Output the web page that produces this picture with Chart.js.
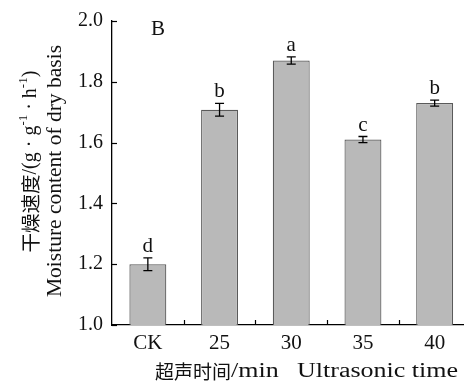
<!DOCTYPE html>
<html><head><meta charset="utf-8">
<script src="https://cdn.jsdelivr.net/npm/chart.js@4.4.0/dist/chart.umd.min.js"></script>
<style>html,body{margin:0;padding:0;overflow:hidden;background:#fff;width:464px;height:385px}canvas{display:block}</style>
</head><body>
<canvas id="c" width="472" height="385" style="width:472px;height:385px"></canvas>
<script>
const categories = ['CK', '25', '30', '35', '40'];
const values = [1.20, 1.708, 1.870, 1.610, 1.730];
const errors = [0.021, 0.021, 0.012, 0.010, 0.010];
const letters = ['d', 'b', 'a', 'c', 'b'];
const yMin = 1.0, yMax = 2.0, yStep = 0.2;
const panelLabel = 'B';
const xTitleCn = '超声时间';
const xTitleUnit = '/min';
const xTitleEn = 'Ultrasonic time';
const yTitleEn = 'Moisture content of dry basis';
const yTitleCnParts = [['干燥速度', 'cjk'], ['/(g · g', 'lat'], ['-1', 'sup'], [' · h', 'lat'], ['-1', 'sup'], [')', 'lat']];

const SERIF = '"Liberation Serif", "Times New Roman", "Noto Sans CJK SC", serif';
const CJK = '"Noto Sans CJK SC", "Liberation Serif", serif';

const extras = {
  id: 'extras',
  afterDatasetsDraw(chart) {
    const ctx = chart.ctx;
    const ys = chart.scales.y, xs = chart.scales.x;
    const meta = chart.getDatasetMeta(0);
    ctx.save();
    ctx.strokeStyle = '#000';
    ctx.lineWidth = 1.3;
    meta.data.forEach((bar, i) => {
      const x = bar.x;
      const yt = ys.getPixelForValue(values[i] + errors[i]);
      const yb = ys.getPixelForValue(values[i] - errors[i]);
      ctx.beginPath();
      ctx.moveTo(x, yt); ctx.lineTo(x, yb);
      ctx.moveTo(x - 4.5, yt); ctx.lineTo(x + 4.5, yt);
      ctx.moveTo(x - 4.5, yb); ctx.lineTo(x + 4.5, yb);
      ctx.stroke();
      ctx.fillStyle = '#111';
      ctx.font = '21px ' + SERIF;
      ctx.textAlign = 'center';
      ctx.textBaseline = 'alphabetic';
      ctx.fillText(letters[i], x, yt - 6);
    });
    // inward ticks on y axis
    ctx.lineWidth = 1.2;
    const left = chart.chartArea.left;
    for (let v = yMin; v <= yMax + 1e-9; v += yStep) {
      const y = Math.round(ys.getPixelForValue(v)) + 0.5;
      ctx.beginPath(); ctx.moveTo(left, y); ctx.lineTo(left + 5, y); ctx.stroke();
    }
    // inward ticks on x axis between categories
    const bottom = chart.chartArea.bottom;
    for (let i = 1; i < categories.length; i++) {
      const x = Math.round((xs.getPixelForValue(i - 1) + xs.getPixelForValue(i)) / 2) + 0.5;
      ctx.beginPath(); ctx.moveTo(x, bottom); ctx.lineTo(x, bottom - 5); ctx.stroke();
    }
    // panel label
    ctx.fillStyle = '#111';
    ctx.font = '21px ' + SERIF;
    ctx.textAlign = 'center';
    ctx.textBaseline = 'middle';
    ctx.fillText(panelLabel, 158, 29);
    // x title: CJK part + widened Latin parts
    ctx.textAlign = 'left';
    ctx.textBaseline = 'middle';
    ctx.font = '19px ' + CJK;
    ctx.fillText(xTitleCn, 155, 372);
    const cnW = ctx.measureText(xTitleCn).width;
    ctx.font = '20px ' + SERIF;
    const hs = 1.3;
    ctx.save();
    ctx.translate(155 + cnW, 372);
    ctx.scale(hs, 1);
    ctx.fillText(xTitleUnit, 0, 0);
    ctx.restore();
    ctx.save();
    ctx.translate(297, 372);
    ctx.scale(hs, 1);
    ctx.fillText(xTitleEn, 0, 0);
    ctx.restore();
    // y title, English line
    ctx.save();
    ctx.translate(55, 171);
    ctx.rotate(-Math.PI / 2);
    ctx.font = '21.5px ' + SERIF;
    ctx.textAlign = 'center';
    ctx.textBaseline = 'middle';
    ctx.fillText(yTitleEn, 0, 0);
    ctx.restore();
    // y title, Chinese line: CJK unscaled, Latin part widened to reference span
    ctx.save();
    ctx.translate(31, 166);
    ctx.rotate(-Math.PI / 2);
    const fonts = { cjk: '19.5px ' + CJK, lat: '20px ' + SERIF, sup: '13px ' + SERIF };
    let cjkW = 0, latW = 0;
    yTitleCnParts.forEach(p => {
      ctx.font = fonts[p[1]];
      const w = ctx.measureText(p[0]).width;
      if (p[1] === 'cjk') cjkW += w; else latW += w;
    });
    const target = 173;
    const ls = Math.max(1, (target - cjkW) / latW);
    let px = -target / 2;
    ctx.textAlign = 'left';
    ctx.textBaseline = 'middle';
    yTitleCnParts.forEach(p => {
      ctx.font = fonts[p[1]];
      const w = ctx.measureText(p[0]).width;
      const s = p[1] === 'cjk' ? 1 : ls;
      ctx.save();
      ctx.translate(px, p[1] === 'sup' ? -7 : 0);
      ctx.scale(s, 1);
      ctx.fillText(p[0], 0, 0);
      ctx.restore();
      px += w * s;
    });
    ctx.restore();
    ctx.restore();
  }
};

new Chart(document.getElementById('c'), {
  type: 'bar',
  data: {
    labels: categories,
    datasets: [{
      data: values,
      backgroundColor: '#b9b9b9',
      borderColor: '#5a5a5a',
      borderWidth: 1.2,
      barPercentage: 0.515,
      categoryPercentage: 1.0
    }]
  },
  options: {
    responsive: false,
    animation: false,
    devicePixelRatio: 1,
    layout: { padding: { left: 0, right: 1.5, top: 16.5, bottom: 0 } },
    plugins: { legend: { display: false }, tooltip: { enabled: false } },
    scales: {
      x: {
        grid: { display: false, drawTicks: false },
        border: { display: true, color: '#000', width: 1.3 },
        ticks: { color: '#111', font: { family: SERIF, size: 21 }, padding: 6, maxRotation: 0 },
        afterFit(s) { s.height = 60; }
      },
      y: {
        min: yMin, max: yMax,
        grid: { display: false, drawTicks: false },
        border: { display: true, color: '#000', width: 1.3 },
        ticks: { stepSize: yStep, color: '#111', font: { family: SERIF, size: 20 }, padding: 9,
          callback: v => Number(v).toFixed(1) },
        afterFit(s) { s.width = 112; }
      }
    }
  },
  plugins: [extras]
});
</script>
</body></html>
